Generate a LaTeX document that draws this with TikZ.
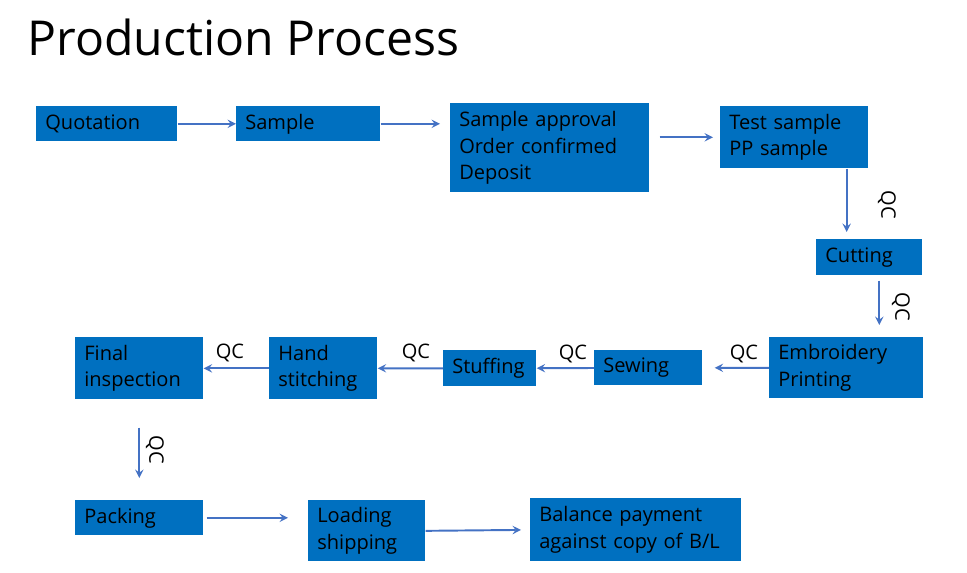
\documentclass[tikz,border=0pt]{standalone}
\usepackage{fontspec}
\setmainfont{Open Sans}

\definecolor{boxblue}{HTML}{0070C0}
\definecolor{arrowblue}{HTML}{4472C4}

\begin{document}
\begin{tikzpicture}[
  x=0.02cm, y=-0.02cm,
  stagebox/.style={fill=boxblue, anchor=north west, align=left, inner xsep=0.18cm, inner ysep=0pt, text=black, font=\fontsize{11.4}{15.2}\selectfont},
  qc/.style={inner sep=0pt, font=\fontsize{11.4}{15.2}\selectfont},
  arrow/.style={->, >=stealth, draw=arrowblue, line width=1.1pt}
]
\useasboundingbox (0,0) rectangle (967,573);

% Title
\node[anchor=base west, inner sep=0pt, font=\fontsize{27.4}{33}\selectfont] (title) at (27,56) {Production Process};

% First row
\node[stagebox, text width=2.46cm, minimum height=0.70cm] (quote) at (36,106) {Quotation};
\node[stagebox, text width=2.52cm, minimum height=0.70cm] (sample) at (236,106) {Sample};
\node[stagebox, text width=3.62cm, minimum height=1.78cm] (approval) at (450,103) {Sample approval\\Order confirmed\\Deposit};
\node[stagebox, text width=2.60cm, minimum height=1.24cm] (test) at (720,106) {Test sample\\PP sample};

% Right column
\node[stagebox, text width=1.76cm, minimum height=0.72cm] (cutting) at (816,239) {Cutting};

% Second row
\node[stagebox, text width=2.72cm, minimum height=1.22cm] (embroid) at (769,337) {Embroidery\\Printing};
\node[stagebox, text width=1.80cm, minimum height=0.70cm] (sewing) at (594,350) {Sewing};
\node[stagebox, text width=1.50cm, minimum height=0.72cm] (stuffing) at (443,350) {Stuffing};
\node[stagebox, text width=1.80cm, minimum height=1.24cm] (hand) at (269,337) {Hand\\stitching};
\node[stagebox, text width=2.20cm, minimum height=1.24cm] (final) at (75,337) {Final\\inspection};

% Last row
\node[stagebox, text width=2.20cm, minimum height=0.70cm] (packing) at (75,500) {Packing};
\node[stagebox, text width=1.98cm, minimum height=1.22cm] (loading) at (308,500) {Loading\\shipping};
\node[stagebox, text width=3.86cm, minimum height=1.26cm] (balance) at (530,498) {Balance payment\\against copy of B/L};

% QC labels
\node[qc, rotate=-90] (qc1) at (887,205) {QC};
\node[qc, rotate=-90] (qc2) at (901,307) {QC};
\node[qc] (qc3) at (744,354) {QC};
\node[qc] (qc4) at (573,354) {QC};
\node[qc] (qc5) at (416,353) {QC};
\node[qc] (qc6) at (230,353) {QC};
\node[qc, rotate=-90] (qc7) at (155,450) {QC};

% Arrows
\draw[arrow] (quote) -- (sample);
\draw[arrow, shorten >=0.2cm] (sample.east) -- (sample.east -| approval.west);
\draw[arrow, shorten <=0.2cm, shorten >=0.14cm] (approval.east |- test.west) -- (test.west);
\draw[arrow, shorten >=0.14cm] ([xshift=-0.44cm]test.south east) -- ([xshift=-0.44cm]test.south east |- cutting.north);
\draw[arrow, shorten <=0.1cm, shorten >=0.24cm] ([xshift=0.2cm]cutting.south) -- ([xshift=0.2cm]cutting.south |- embroid.north);
\draw[arrow, shorten >=0.24cm] (embroid.west) -- (sewing.east);
\foreach \src/\dst in {sewing/stuffing, stuffing/hand, hand/final}
  \draw[arrow] (\src) -- (\dst);
\draw[arrow, shorten <=0.56cm, shorten >=0.44cm] (final.south) -- (packing.north);
\draw[arrow, shorten <=0.06cm, shorten >=0.4cm] (packing.east) -- (packing.east -| loading.west);
\draw[arrow, shorten >=0.18cm] (loading.east) -- (balance.west);

\end{tikzpicture}
\end{document}
